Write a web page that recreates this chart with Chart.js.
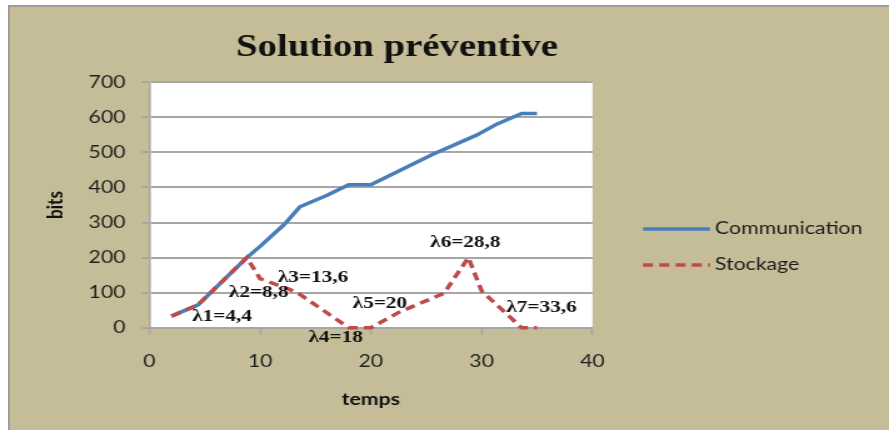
<html>

<head>
    <script src="https://cdn.jsdelivr.net/npm/chart.js"></script>
    <style>
        body { margin: 0; background: #fff; }
        #frame { position: absolute; left: 8px; top: 5px; width: 900px; height: 440px; background: #c4bd97; border-left: 2px solid #9c9c9c; border-top: 2px solid #9c9c9c; }
        #chart { position: absolute; left: 0; top: 0; }
    </style>
</head>

<body>
    <div id="frame"></div>
    <!-- the picture is stretched sideways, so the canvas is drawn narrower and widened by css -->
    <canvas id="chart" width="711" height="430" style="width: 889px; height: 430px;"></canvas>

    <script>
        var titleText = 'Solution préventive';

        var commTime = [2, 4.4, 8.8, 10, 12.2, 13.6, 16, 18, 20, 25.6, 29.6, 31.2, 33.6, 35];
        var commBits = [33, 65, 200, 232, 295, 345, 377, 408, 408, 495, 550, 578, 611, 611];

        var stockTime = [2, 4.4, 8.8, 10, 12.6, 13.6, 18, 20, 22.6, 26.6, 28.8, 30, 33.6, 35];
        var stockBits = [33, 65, 200, 140, 110, 95, 0, 0, 45, 98, 200, 105, 0, 0];

        var lambdaTime = [4.4, 8.8, 13.6, 18, 20, 28.8, 33.6];

        var xTicks = [0, 10, 20, 30, 40];
        var yTicks = [0, 100, 200, 300, 400, 500, 600, 700];

        var sx = 889 / 711;
        // offsets of the lambda labels from their point, screen px
        var lambdaOffsets = [[24, 12], [12, 35], [13, -17], [-13, 10], [9, -24], [-3, -15], [20, -20]];

        function toPoints(xs, ys) {
            return xs.map(function(x, i) { return { x: x, y: ys[i] }; });
        }

        var extras = {
            id: 'extras',
            beforeDraw: function(chart) {
                var a = chart.chartArea;
                var ctx = chart.ctx;
                ctx.save();
                ctx.fillStyle = '#ffffff';
                ctx.fillRect(a.left, a.top, a.right - a.left, a.bottom - a.top);
                ctx.restore();
            },
            afterDraw: function(chart) {
                var ctx = chart.ctx;
                var xs = chart.scales.x;
                var ys = chart.scales.y;
                ctx.save();

                ctx.fillStyle = '#111';
                ctx.textAlign = 'center';
                ctx.textBaseline = 'alphabetic';
                ctx.font = 'bold 31px "Liberation Serif"';
                ctx.fillText(titleText, 397 / sx, 56);

                ctx.font = 'bold 17px "Liberation Serif"';
                ctx.textBaseline = 'middle';
                lambdaTime.forEach(function(t, i) {
                    var v = stockBits[stockTime.indexOf(t)];
                    var px = xs.getPixelForValue(t) + lambdaOffsets[i][0] / sx;
                    var py = ys.getPixelForValue(v) + lambdaOffsets[i][1];
                    ctx.fillText('λ' + (i + 1) + '=' + String(t).replace('.', ','), px, py);
                });

                // legend
                ctx.font = '17px Lato';
                ctx.textAlign = 'left';
                chart.data.datasets.forEach(function(ds, i) {
                    var y = 229 + i * 36;
                    ctx.strokeStyle = ds.borderColor;
                    ctx.lineWidth = ds.borderWidth;
                    ctx.setLineDash(ds.borderDash || []);
                    ctx.beginPath();
                    ctx.moveTo(643 / sx, y);
                    ctx.lineTo(710 / sx, y);
                    ctx.stroke();
                    ctx.setLineDash([]);
                    ctx.fillStyle = '#1c1c1c';
                    ctx.fillText(ds.label, 715 / sx, y);
                });
                ctx.restore();
            }
        };

        var axisFont = { family: 'Lato', size: 17 };
        var titleFont = { family: 'Lato', size: 17, weight: 'bold' };

        var ctx = document.getElementById('chart').getContext('2d');
        var myChart = new Chart(ctx, {
            type: 'line',
            data: {
                datasets: [{
                    label: 'Communication',
                    data: toPoints(commTime, commBits),
                    borderColor: '#4a7ebb',
                    borderWidth: 3.5,
                    borderJoinStyle: 'round',
                    pointRadius: 0,
                    tension: 0,
                    clip: false,
                    order: 1
                }, {
                    label: 'Stockage',
                    data: toPoints(stockTime, stockBits),
                    borderColor: '#be4b48',
                    borderWidth: 3.5,
                    borderDash: [8, 5],
                    pointRadius: 0,
                    tension: 0,
                    clip: false,
                    order: 0
                }]
            },
            options: {
                responsive: false,
                animation: false,
                devicePixelRatio: 1,
                layout: { padding: { left: 20, right: 237.2, top: 82.3, bottom: 0 } },
                plugins: {
                    legend: { display: false },
                    title: { display: false },
                    tooltip: { enabled: false }
                },
                scales: {
                    x: {
                        type: 'linear',
                        min: xTicks[0],
                        max: xTicks[xTicks.length - 1],
                        afterBuildTicks: function(s) { s.ticks = xTicks.map(function(v) { return { value: v }; }); },
                        ticks: { padding: 17, color: '#1f1f1f', font: axisFont },
                        grid: { drawOnChartArea: false, tickLength: 7, tickColor: '#a6a6a6', tickWidth: 1.6 },
                        border: { color: '#a6a6a6', width: 2 },
                        title: { display: true, text: 'temps', color: '#111', font: titleFont, padding: { top: 0, bottom: 20 } },
                        afterFit: function(s) { s.height = 102.3; }
                    },
                    y: {
                        min: yTicks[0],
                        max: yTicks[yTicks.length - 1],
                        afterBuildTicks: function(s) { s.ticks = yTicks.map(function(v) { return { value: v }; }); },
                        ticks: { padding: 13, color: '#1f1f1f', font: axisFont },
                        grid: { color: '#a6a6a6', lineWidth: 2, tickLength: 6 },
                        border: { color: '#a6a6a6', width: 1.6 },
                        title: { display: true, text: 'bits', color: '#111', font: titleFont, padding: { top: 14, bottom: 0 } },
                        afterFit: function(s) { s.width = 99.4; }
                    }
                }
            },
            plugins: [extras]
        });
    </script>

</body>

</html>
